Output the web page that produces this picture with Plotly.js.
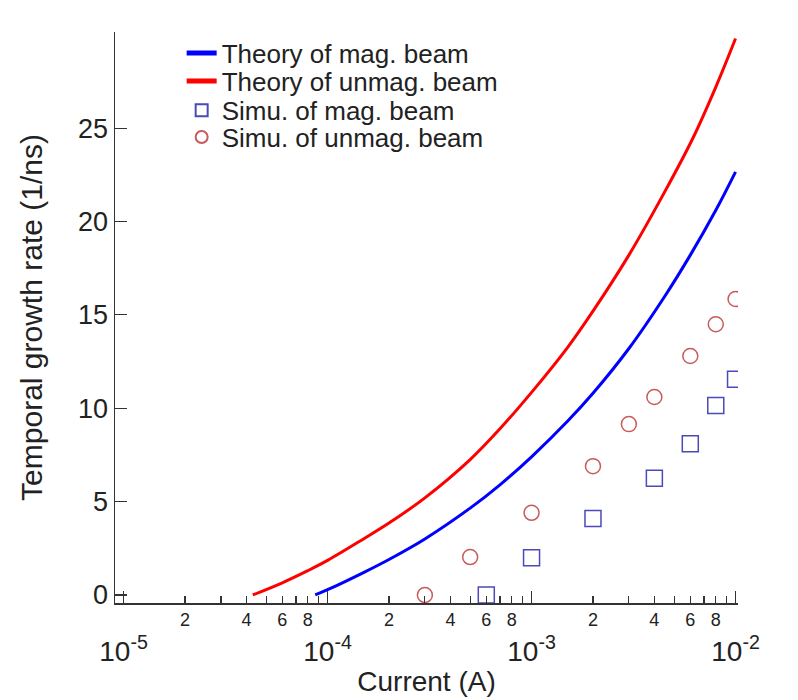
<!DOCTYPE html>
<html>
<head>
<meta charset="utf-8">
<script src="https://cdn.plot.ly/plotly-3.0.1.min.js"></script>
<style>html,body{margin:0;padding:0;background:#fff;}#chart{width:798px;height:700px;}</style>
</head>
<body>
<div id="chart"></div>
<script>
// Theory curves
const theoryMagX   = [8.7e-5, 1.0e-4, 1.5e-4, 2.0e-4, 3.0e-4, 5.0e-4, 7.0e-4, 1.0e-3, 1.5e-3, 2.0e-3, 3.0e-3, 4.5e-3, 6.0e-3, 8.0e-3, 1.0e-2];
const theoryMagY   = [0, 0.28, 1.2, 1.9, 3.0, 4.65, 5.9, 7.4, 9.3, 10.8, 13.2, 16.0, 18.2, 20.6, 22.66];
const theoryUnmagX = [4.3e-5, 6.0e-5, 8.0e-5, 1.0e-4, 1.5e-4, 2.0e-4, 3.0e-4, 5.0e-4, 7.0e-4, 1.0e-3, 1.5e-3, 2.0e-3, 3.0e-3, 4.5e-3, 6.2e-3, 8.0e-3, 1.0e-2];
const theoryUnmagY = [0, 0.65, 1.3, 1.85, 3.0, 3.85, 5.2, 7.25, 8.9, 10.85, 13.25, 15.2, 18.2, 21.6, 24.5, 27.2, 29.8];
// Simulation points
const simuMagX   = [6e-4, 1e-3, 2e-3, 4e-3, 6e-3, 8e-3, 1e-2];
const simuMagY   = [0, 2.0, 4.1, 6.25, 8.1, 10.15, 11.55];
const simuUnmagX = [3e-4, 5e-4, 1e-3, 2e-3, 3e-3, 4e-3, 6e-3, 8e-3, 1e-2];
const simuUnmagY = [0, 2.03, 4.4, 6.9, 9.15, 10.6, 12.8, 14.5, 15.85];
// Axis ticks
const xTickVals = [1e-5,2e-5,3e-5,4e-5,5e-5,6e-5,7e-5,8e-5,9e-5,
                   1e-4,2e-4,3e-4,4e-4,5e-4,6e-4,7e-4,8e-4,9e-4,
                   1e-3,2e-3,3e-3,4e-3,5e-3,6e-3,7e-3,8e-3,9e-3,1e-2];
const minorLabels = ['', '2', '', '4', '', '6', '', '8', ''];
const decadeVals = [1e-5, 1e-4, 1e-3, 1e-2];
const decadeExp = ['-5', '-4', '-3', '-2'];
const yTickVals = [0, 5, 10, 15, 20, 25];
const legendNames = ['Theory of mag. beam', 'Theory of unmag. beam', 'Simu. of mag. beam', 'Simu. of unmag. beam'];

const xTickText = xTickVals.map((v, i) => minorLabels[i % 9]);
const decadeText = decadeExp.map(e => '10<sup>' + e + '</sup>');

const FONT = 'Liberation Sans, Arial, sans-serif';
const XRANGE = [-5.042, -1.988];

const traces = [
  {x: theoryMagX, y: theoryMagY, name: legendNames[0], mode: 'lines', type: 'scatter',
   line: {color: '#0000ff', width: 3, shape: 'spline', smoothing: 1}, legend: 'legend'},
  {x: theoryUnmagX, y: theoryUnmagY, name: legendNames[1], mode: 'lines', type: 'scatter',
   line: {color: '#ff0000', width: 3, shape: 'spline', smoothing: 1}, legend: 'legend2'},
  {x: simuMagX, y: simuMagY, name: legendNames[2], mode: 'markers', type: 'scatter',
   marker: {symbol: 'square-open', size: 16, color: '#4a4ab8', line: {width: 1.5}}, legend: 'legend3'},
  {x: simuUnmagX, y: simuUnmagY, name: legendNames[3], mode: 'markers', type: 'scatter', xaxis: 'x2',
   marker: {symbol: 'circle-open', size: 15, color: '#c85a5a', line: {width: 1.5}}, legend: 'legend4'}
];

function leg(yc) {
  return {x: 0.107, y: yc, xanchor: 'left', yanchor: 'middle', bgcolor: 'rgba(0,0,0,0)',
          borderwidth: 0, font: {family: FONT, size: 26, color: '#222'}, itemsizing: 'constant'};
}

const layout = {
  width: 798, height: 700,
  margin: {l: 115, r: 60, t: 32, b: 97},
  paper_bgcolor: '#ffffff', plot_bgcolor: '#ffffff',
  font: {family: FONT, color: '#222'},
  showlegend: true,
  legend: leg(0.963), legend2: leg(0.914), legend3: leg(0.863), legend4: leg(0.816),
  xaxis: {
    type: 'log', range: XRANGE,
    showline: true, linecolor: '#333', linewidth: 1.5, mirror: false,
    ticks: 'inside', ticklen: 7, tickwidth: 1.2, tickcolor: '#333',
    tickmode: 'array', tickvals: xTickVals, ticktext: xTickText, tickangle: 0,
    tickfont: {family: FONT, size: 18, color: '#222'},
    showgrid: false, zeroline: false,
    title: {text: 'Current (A)', font: {family: FONT, size: 28, color: '#222'}, standoff: 42}
  },
  xaxis2: {
    type: 'log', range: XRANGE, overlaying: 'x', anchor: 'y', side: 'bottom',
    showline: false, ticks: 'inside', ticklen: 12, tickwidth: 1.2, tickcolor: '#333',
    tickmode: 'array', tickvals: decadeVals, ticktext: decadeText, tickangle: 0,
    ticklabelstandoff: 29,
    tickfont: {family: FONT, size: 28, color: '#222'},
    showgrid: false, zeroline: false
  },
  yaxis: {
    range: [-0.43, 30.15],
    showline: true, linecolor: '#333', linewidth: 1.5, mirror: false,
    ticks: 'inside', ticklen: 12, tickwidth: 1.2, tickcolor: '#333',
    tickmode: 'array', tickvals: yTickVals, ticktext: yTickVals.map(String),
    tickfont: {family: FONT, size: 27, color: '#222'},
    showgrid: false, zeroline: false,
    title: {text: 'Temporal growth rate (1/ns)', font: {family: FONT, size: 30, color: '#222'}, standoff: 26}
  }
};

Plotly.newPlot('chart', traces, layout, {displayModeBar: false, staticPlot: true});
</script>
</body>
</html>
